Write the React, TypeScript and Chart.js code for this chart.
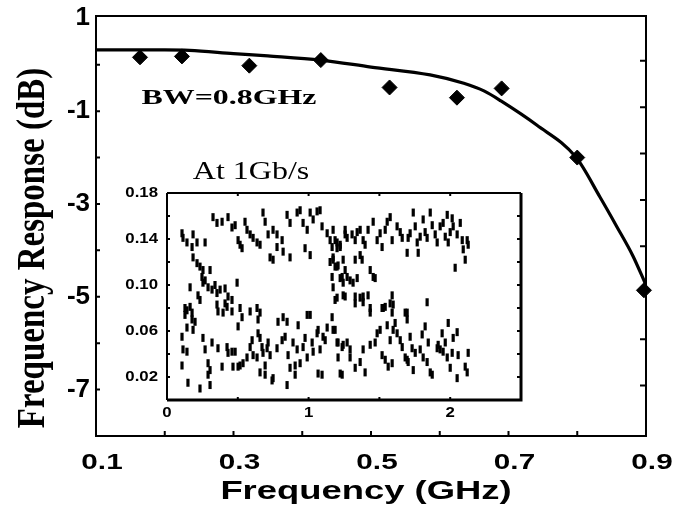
import React, { useEffect, useRef } from 'react';
import { Chart, registerables } from 'chart.js';

Chart.register(...registerables);

// ---- Main frequency response data ----
const measuredFreq = [0.164, 0.225, 0.323, 0.427, 0.527, 0.625, 0.69, 0.8, 0.897];
const measuredResp = [0.16, 0.18, -0.02, 0.1, -0.49, -0.71, -0.51, -2.0, -4.86];

const fitFreq = [0.1, 0.2, 0.236, 0.3, 0.35, 0.427, 0.5, 0.586, 0.635, 0.665, 0.689, 0.741, 0.798, 0.833, 0.858, 0.881, 0.9];
const fitResp = [0.32, 0.32, 0.31, 0.24, 0.19, 0.1, -0.05, -0.22, -0.4, -0.57, -0.78, -1.3, -1.99, -2.85, -3.5, -4.12, -4.75];

const xTickLabels = [0.1, 0.3, 0.5, 0.7, 0.9];
const yTickLabels = [1, -1, -3, -5, -7];
const xMinorTicks = [0.2, 0.3, 0.4, 0.5, 0.6, 0.7, 0.8];
const yMinorTicks = [0, -1, -2, -3, -4, -5, -6, -7];

// ---- Inset eye diagram (time in ns, amplitude) ----
const eyeXTicks = [0, 1, 2];
const eyeYTicks = [0.18, 0.14, 0.1, 0.06, 0.02];
const eyeXMinor = [0.5, 1, 1.5, 2];
const eyeYMinor = [0.02, 0.04, 0.06, 0.08, 0.1, 0.12, 0.14, 0.16];

const eyeSamples: [number, number][] = [
  // upper rail, left half
  [0.106, 0.145], [0.113, 0.141], [0.141, 0.137], [0.177, 0.133], [0.212, 0.137], [0.184, 0.144],
  [0.269, 0.137], [0.325, 0.159], [0.353, 0.154], [0.389, 0.155], [0.431, 0.159], [0.459, 0.15],
  [0.481, 0.152], [0.502, 0.139], [0.516, 0.135], [0.53, 0.132], [0.551, 0.155], [0.565, 0.148],
  [0.587, 0.144], [0.608, 0.141], [0.636, 0.137], [0.657, 0.135], [0.678, 0.163], [0.693, 0.155],
  [0.714, 0.144], [0.749, 0.148], [0.777, 0.144], [0.813, 0.139], [0.728, 0.124], [0.749, 0.122],
  [0.848, 0.161], [0.869, 0.154], [0.919, 0.163], [0.94, 0.165], [0.961, 0.154], [0.99, 0.148],
  [1.011, 0.163], [1.032, 0.157], [1.06, 0.164], [1.081, 0.165], [1.095, 0.151], [1.131, 0.145],
  [1.152, 0.139], [1.166, 0.133], [1.201, 0.137], [1.223, 0.133], [1.258, 0.144], [0.777, 0.133],
  [0.82, 0.129], [0.869, 0.124], [0.975, 0.132], [1.011, 0.126], [1.152, 0.12], [1.173, 0.122],
  [1.201, 0.116],
  // left crossing
  [0.184, 0.124], [0.212, 0.119], [0.233, 0.116], [0.254, 0.113], [0.247, 0.107], [0.269, 0.104],
  [0.304, 0.113], [0.254, 0.102], [0.29, 0.098], [0.318, 0.096], [0.339, 0.1], [0.353, 0.093],
  [0.375, 0.096], [0.41, 0.097], [0.431, 0.09], [0.459, 0.087], [0.495, 0.102], [0.163, 0.098],
  [0.219, 0.091], [0.233, 0.087], [0.127, 0.08], [0.163, 0.081], [0.177, 0.076], [0.353, 0.083],
  [0.36, 0.077], [0.424, 0.081], [0.459, 0.077], [0.516, 0.08], [0.587, 0.077], [0.636, 0.08],
  [0.657, 0.076], [0.82, 0.072], [0.99, 0.074], [1.166, 0.072],
  // middle crossing
  [1.173, 0.098], [1.187, 0.087], [1.237, 0.107], [1.244, 0.102], [1.258, 0.09], [1.173, 0.124],
  [1.187, 0.116], [1.208, 0.117], [1.244, 0.122], [1.258, 0.113], [1.329, 0.122], [1.364, 0.126],
  [1.378, 0.122], [1.435, 0.113], [1.456, 0.107], [1.166, 0.107], [1.223, 0.106], [1.272, 0.107],
  [1.293, 0.104], [1.314, 0.102], [1.343, 0.106], [1.47, 0.106], [2.035, 0.115], [1.837, 0.085],
  [1.201, 0.089], [1.244, 0.091], [1.329, 0.09], [1.364, 0.089], [1.385, 0.09], [1.42, 0.091],
  [1.435, 0.08], [1.519, 0.08], [1.541, 0.081], [1.59, 0.091], [1.597, 0.083], [1.696, 0.076],
  // upper rail, right half
  [1.173, 0.148], [1.187, 0.139], [1.201, 0.132], [1.223, 0.135], [1.258, 0.148], [1.272, 0.141],
  [1.307, 0.144], [1.329, 0.139], [1.343, 0.146], [1.364, 0.148], [1.385, 0.139], [1.399, 0.135],
  [1.42, 0.148], [1.456, 0.155], [1.484, 0.139], [1.505, 0.145], [1.519, 0.133], [1.541, 0.148],
  [1.555, 0.155], [1.576, 0.159], [1.59, 0.139], [1.625, 0.151], [1.647, 0.146], [1.661, 0.141],
  [1.696, 0.128], [1.703, 0.141], [1.717, 0.145], [1.739, 0.163], [1.753, 0.151], [1.767, 0.137],
  [1.774, 0.128], [1.788, 0.142], [1.809, 0.157], [1.823, 0.146], [1.837, 0.141], [1.859, 0.163],
  [1.873, 0.152], [1.894, 0.144], [1.908, 0.137], [1.929, 0.151], [1.95, 0.154], [1.965, 0.142],
  [1.979, 0.161], [1.986, 0.137], [2.0, 0.146], [2.014, 0.158], [2.021, 0.151], [2.049, 0.144],
  [2.071, 0.154], [2.085, 0.139], [2.092, 0.131], [2.106, 0.122], [2.12, 0.139], [2.127, 0.135],
  // lower rail, left half
  [0.127, 0.074], [0.141, 0.078], [0.177, 0.07], [0.198, 0.068], [0.184, 0.061], [0.106, 0.055],
  [0.141, 0.063], [0.113, 0.044], [0.141, 0.042], [0.106, 0.03], [0.148, 0.015], [0.233, 0.01],
  [0.254, 0.054], [0.269, 0.044], [0.29, 0.032], [0.304, 0.026], [0.29, 0.022], [0.304, 0.013],
  [0.318, 0.05], [0.396, 0.076], [0.41, 0.084], [0.502, 0.064], [0.53, 0.072], [0.643, 0.07],
  [0.36, 0.045], [0.389, 0.029], [0.424, 0.046], [0.431, 0.041], [0.459, 0.042], [0.466, 0.029],
  [0.481, 0.042], [0.502, 0.029], [0.516, 0.03], [0.537, 0.032], [0.565, 0.037], [0.587, 0.046],
  [0.601, 0.052], [0.608, 0.039], [0.636, 0.037], [0.643, 0.058], [0.657, 0.054], [0.671, 0.046],
  [0.678, 0.041], [0.693, 0.03], [0.707, 0.045], [0.714, 0.05], [0.728, 0.039], [0.749, 0.019],
  [0.777, 0.045], [0.784, 0.068], [0.813, 0.052], [0.834, 0.055], [0.848, 0.068], [0.855, 0.039],
  [0.869, 0.028], [0.89, 0.05], [0.905, 0.03], [0.919, 0.044], [0.926, 0.065], [0.94, 0.032],
  [0.961, 0.046], [0.975, 0.054], [0.99, 0.037], [1.011, 0.074], [1.025, 0.05], [1.032, 0.042],
  [1.06, 0.058], [1.067, 0.061], [1.081, 0.044], [1.095, 0.022], [1.102, 0.055], [1.117, 0.052],
  [1.131, 0.063], [1.187, 0.061], [1.208, 0.05], [1.223, 0.023], [1.237, 0.046], [0.657, 0.024],
  [0.693, 0.022], [0.742, 0.017], [0.848, 0.013], [0.905, 0.022], [1.067, 0.023],
  // lower rail, right half
  [1.173, 0.061], [1.201, 0.05], [1.208, 0.037], [1.237, 0.022], [1.244, 0.048], [1.272, 0.05],
  [1.293, 0.044], [1.293, 0.037], [1.329, 0.028], [1.364, 0.033], [1.385, 0.044], [1.399, 0.024],
  [1.435, 0.048], [1.47, 0.05], [1.484, 0.058], [1.505, 0.061], [1.519, 0.039], [1.541, 0.035],
  [1.555, 0.065], [1.562, 0.029], [1.576, 0.052], [1.59, 0.032], [1.597, 0.061], [1.611, 0.067],
  [1.625, 0.058], [1.647, 0.052], [1.661, 0.046], [1.682, 0.037], [1.696, 0.035], [1.703, 0.033],
  [1.717, 0.055], [1.731, 0.045], [1.739, 0.026], [1.753, 0.041], [1.788, 0.044], [1.802, 0.057],
  [1.809, 0.037], [1.823, 0.064], [1.837, 0.033], [1.845, 0.05], [1.859, 0.024], [1.873, 0.022],
  [1.908, 0.045], [1.915, 0.048], [1.929, 0.044], [1.943, 0.058], [1.95, 0.042], [1.965, 0.05],
  [1.979, 0.037], [1.986, 0.067], [2.0, 0.028], [2.014, 0.041], [2.021, 0.054], [2.049, 0.059],
  [2.049, 0.019], [2.056, 0.039], [2.106, 0.029], [2.12, 0.024], [2.127, 0.041], [1.329, 0.084],
  [1.385, 0.085], [1.435, 0.076], [1.527, 0.08], [1.576, 0.084], [1.59, 0.076], [1.682, 0.076],
  [1.696, 0.07],
];

const SANS = '"Liberation Sans", Arial, sans-serif';
const SERIF = '"Liberation Serif", "Times New Roman", serif';

function drawText(
  ctx: CanvasRenderingContext2D,
  text: string,
  x: number,
  y: number,
  font: string,
  sx: number,
  align: CanvasTextAlign,
  rot = 0,
  sy = 1
) {
  ctx.save();
  ctx.translate(x, y);
  if (rot) ctx.rotate(rot);
  ctx.scale(sx, sy);
  ctx.font = font;
  ctx.textAlign = align;
  ctx.textBaseline = 'middle';
  ctx.fillStyle = '#000';
  ctx.fillText(text, 0, 0);
  ctx.restore();
}

const mainDecor = {
  id: 'mainDecor',
  afterDraw(chart: any) {
    const { ctx, chartArea: a } = chart;
    const xs = chart.scales.x;
    const ys = chart.scales.y;
    ctx.save();
    ctx.strokeStyle = '#000';
    ctx.lineWidth = 2;
    ctx.strokeRect(a.left, a.top, a.right - a.left, a.bottom - a.top);
    ctx.beginPath();
    xMinorTicks.forEach((v) => {
      const px = xs.getPixelForValue(v);
      ctx.moveTo(px, a.bottom);
      ctx.lineTo(px, a.bottom - 5);
    });
    yMinorTicks.forEach((v) => {
      const py = ys.getPixelForValue(v);
      ctx.moveTo(a.left, py);
      ctx.lineTo(a.left + 4, py);
      ctx.moveTo(a.right, py - 4);
      ctx.lineTo(a.right - 6, py - 4);
    });
    ctx.stroke();
    ctx.restore();

    yTickLabels.forEach((v) => {
      drawText(ctx, String(v), 90, ys.getPixelForValue(v), `bold 26px ${SANS}`, 1.0, 'right');
    });
    xTickLabels.forEach((v) => {
      drawText(ctx, v.toFixed(1), xs.getPixelForValue(v) + 6, 463, `bold 22px ${SANS}`, 1.35, 'center');
    });
    drawText(ctx, 'Frequency (GHz)', 366, 492, `bold 26px ${SANS}`, 1.4, 'center');
    drawText(ctx, 'Frequency Response (dB)', 34, 248, `bold 33px ${SERIF}`, 1.0, 'center', -Math.PI / 2, 1.2);
    drawText(ctx, 'BW=0.8GHz', 229, 98, `bold 22px ${SERIF}`, 1.45, 'center');
  },
};

const eyeDecor = {
  id: 'eyeDecor',
  beforeDraw(chart: any) {
    const { ctx, chartArea: a } = chart;
    ctx.save();
    ctx.fillStyle = '#fff';
    ctx.fillRect(a.left, a.top, a.right - a.left, a.bottom - a.top);
    ctx.restore();
  },
  afterDraw(chart: any) {
    const { ctx, chartArea: a } = chart;
    const xs = chart.scales.x;
    const ys = chart.scales.y;
    ctx.save();
    ctx.strokeStyle = '#000';
    ctx.lineWidth = 2;
    ctx.beginPath();
    ctx.moveTo(a.left, a.top);
    ctx.lineTo(a.right, a.top);
    ctx.moveTo(a.left, a.top);
    ctx.lineTo(a.left, a.bottom);
    ctx.stroke();
    ctx.lineWidth = 3;
    ctx.beginPath();
    ctx.moveTo(a.left, a.bottom);
    ctx.lineTo(a.right, a.bottom);
    ctx.lineTo(a.right, a.top);
    ctx.stroke();
    ctx.lineWidth = 2;
    ctx.beginPath();
    eyeXMinor.forEach((v) => {
      const px = xs.getPixelForValue(v);
      ctx.moveTo(px, a.bottom);
      ctx.lineTo(px, a.bottom - 3);
      ctx.moveTo(px, a.top);
      ctx.lineTo(px, a.top + 3);
    });
    eyeYMinor.forEach((v) => {
      const py = ys.getPixelForValue(v);
      ctx.moveTo(a.left, py);
      ctx.lineTo(a.left + 3, py);
      ctx.moveTo(a.right, py);
      ctx.lineTo(a.right - 4, py);
    });
    ctx.stroke();
    ctx.restore();

    eyeYTicks.forEach((v) => {
      drawText(ctx, v.toFixed(2), 158, ys.getPixelForValue(v), `bold 14px ${SANS}`, 1.2, 'right');
    });
    eyeXTicks.forEach((v) => {
      drawText(ctx, String(v), xs.getPixelForValue(v), 413, `bold 14px ${SANS}`, 1.2, 'center');
    });
    drawText(ctx, 'At 1Gb/s', 251, 172, `25px ${SERIF}`, 1.28, 'center');
  },
};

export default function App() {
  const mainRef = useRef<HTMLCanvasElement | null>(null);
  const eyeRef = useRef<HTMLCanvasElement | null>(null);

  useEffect(() => {
    if (!mainRef.current || !eyeRef.current) return;
    const main = new Chart(mainRef.current, {
      type: 'scatter',
      data: {
        datasets: [
          {
            type: 'line',
            data: fitFreq.map((f, i) => ({ x: f, y: fitResp[i] })),
            borderColor: '#000',
            borderWidth: 3.2,
            pointRadius: 0,
            cubicInterpolationMode: 'monotone',
            fill: false,
          } as any,
          {
            type: 'scatter',
            data: measuredFreq.map((f, i) => ({ x: f, y: measuredResp[i] })),
            pointStyle: 'rectRot',
            pointRadius: 7.5,
            backgroundColor: '#000',
            borderColor: '#000',
            clip: false,
          } as any,
        ],
      },
      options: {
        animation: false,
        responsive: false,
        layout: { padding: { left: 96, right: 28, top: 16, bottom: 76 } },
        scales: {
          x: { type: 'linear', display: false, min: 0.1, max: 0.9 },
          y: { type: 'linear', display: false, min: -8, max: 1.05 },
        },
        plugins: { legend: { display: false }, tooltip: { enabled: false } },
      },
      plugins: [mainDecor],
    });

    const eye = new Chart(eyeRef.current, {
      type: 'scatter',
      data: {
        datasets: [
          {
            data: eyeSamples.map(([t, v]) => ({ x: t, y: v })),
            pointStyle: 'line',
            rotation: 90,
            pointRadius: 4,
            borderWidth: 3.2,
            borderColor: '#000',
            backgroundColor: '#000',
          } as any,
        ],
      },
      options: {
        animation: false,
        responsive: false,
        layout: { padding: { left: 167, right: 153, top: 193, bottom: 112 } },
        scales: {
          x: { type: 'linear', display: false, min: 0, max: 2.5 },
          y: { type: 'linear', display: false, min: 0, max: 0.18 },
        },
        plugins: { legend: { display: false }, tooltip: { enabled: false } },
      },
      plugins: [eyeDecor],
    });

    return () => {
      main.destroy();
      eye.destroy();
    };
  }, []);

  return (
    <div style={{ position: 'fixed', left: 0, top: 0, width: 674, height: 512, background: '#fff' }}>
      <canvas ref={mainRef} width={674} height={512} style={{ position: 'absolute', left: 0, top: 0 }} />
      <canvas ref={eyeRef} width={674} height={512} style={{ position: 'absolute', left: 0, top: 0 }} />
    </div>
  );
}
